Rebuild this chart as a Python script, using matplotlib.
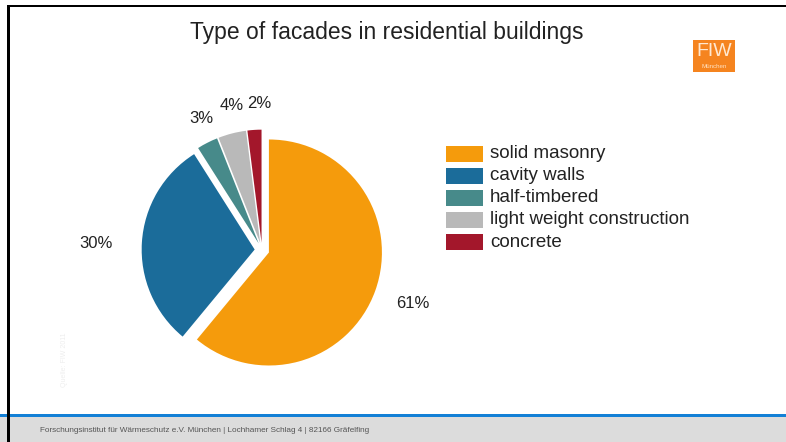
import matplotlib.pyplot as plt
from matplotlib.patches import Rectangle

plt.rcParams['font.family'] = ['Liberation Sans', 'DejaVu Sans']

categories = ['solid masonry', 'cavity walls', 'half-timbered',
              'light weight construction', 'concrete']
shares = [61, 30, 3, 4, 2]
colors = ['#F59B0C', '#1B6C9A', '#478A8A', '#B9B9B9', '#A3172B']

W, H = 786, 442
fig = plt.figure(figsize=(W / 100, H / 100), dpi=100)
fig.patch.set_facecolor('white')


def px(x, y):
    return x / W, 1 - y / H


# slide frame: black top/left edge, blue rule, grey footer
fig.add_artist(Rectangle((0, 0), 1, 25 / H, transform=fig.transFigure,
                         facecolor='#DCDCDC', edgecolor='none'))
fig.add_artist(Rectangle((0, 25 / H), 1, 3.5 / H, transform=fig.transFigure,
                         facecolor='#1380D6', edgecolor='none'))
fig.add_artist(Rectangle((7 / W, 1 - 7 / H), 1, 2.5 / H, transform=fig.transFigure,
                         facecolor='black', edgecolor='none'))
fig.add_artist(Rectangle((7 / W, 0), 2.5 / W, 1 - 5 / H, transform=fig.transFigure,
                         facecolor='black', edgecolor='none'))

fig.text(*px(40, 430), 'Forschungsinstitut für Wärmeschutz e.V. München | Lochhamer Schlag 4 | 82166 Gräfelfing',
         fontsize=5.9, color='#555555', va='center', ha='left')

fig.text(*px(387, 33), 'Type of facades in residential buildings',
         fontsize=16.5, color='#222222', ha='center', va='center')

# logo
fig.add_artist(Rectangle(px(693, 72), 42 / W, 32 / H, transform=fig.transFigure,
                         facecolor='#F5841F', edgecolor='none'))
fig.text(*px(714, 52), 'FIW', fontsize=14, color='#FFE8D0', ha='center', va='center',
         fontweight='light')
fig.text(*px(714, 67), 'München', fontsize=4.5, color='#FFE0C0', ha='center', va='center')

# faint vertical source note
fig.text(*px(64, 360), 'Quelle: FIW 2011', fontsize=5, color='#EEEEEE',
         rotation=90, ha='center', va='center')

# pie
cx, cy, r = 262, 250, 113
half = 1.25 * r
ax = fig.add_axes([(cx - half) / W, (H - cy - half) / H, 2 * half / W, 2 * half / H])
ax.pie(shares, colors=colors, startangle=90, counterclock=False,
       explode=[0.065] * len(shares), wedgeprops=dict(linewidth=0))
ax.set_xlim(-1.25, 1.25)
ax.set_ylim(-1.25, 1.25)
ax.set_aspect('equal')
ax.axis('off')

label_pos = [(413, 303), (96, 243), (201, 119), (232, 105), (259, 103)]
for v, (x, y) in zip(shares, label_pos):
    fig.text(*px(x, y), f'{v}%', fontsize=12, color='#222222', ha='center', va='center')
# bottom of the 61% label is cut off in the slide
fig.add_artist(Rectangle(px(385, 318), 60 / W, 10 / H, transform=fig.transFigure,
                         facecolor='white', edgecolor='none', zorder=5))

# legend
leg_x, leg_y, step = 446, 154, 22
for i, (name, c) in enumerate(zip(categories, colors)):
    y = leg_y + i * step
    fig.add_artist(Rectangle(px(leg_x, y + 8), 37 / W, 16 / H, transform=fig.transFigure,
                             facecolor=c, edgecolor='none'))
    fig.text(*px(leg_x + 44, y), name, fontsize=13.5, color='#222222', ha='left', va='center')

fig.savefig('out.png', dpi=100)
